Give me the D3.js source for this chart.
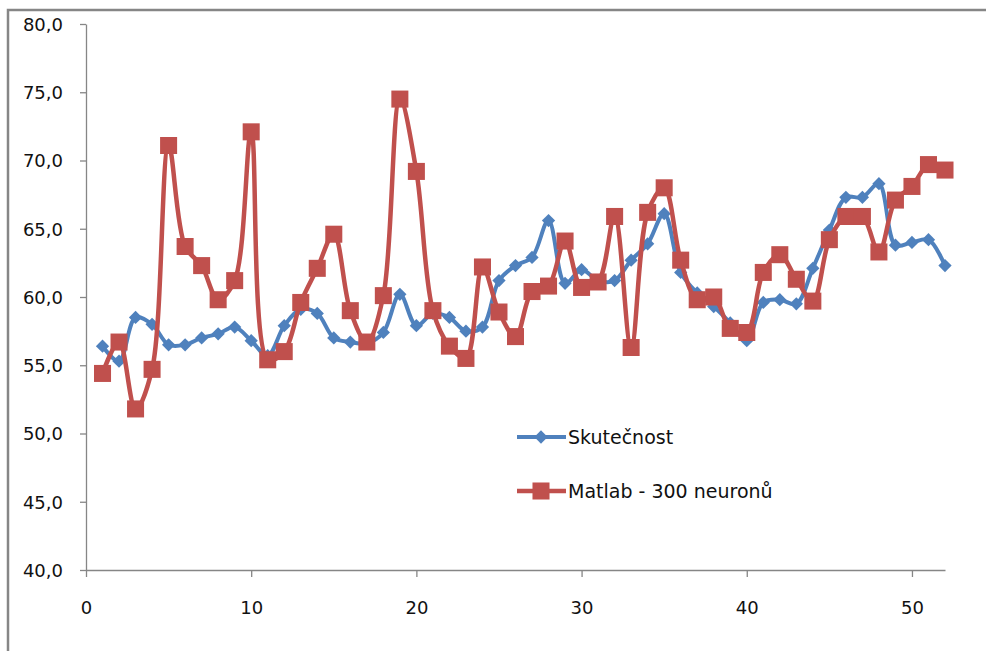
<!DOCTYPE html>
<html>
<head>
<meta charset="utf-8">
<script src="https://cdn.jsdelivr.net/npm/d3@7"></script>
<style>
  html, body { margin: 0; padding: 0; background: #fff; }
  svg { display: block; }
</style>
</head>
<body>
<div id="chart"></div>
<script>
// week index 1..52
const weeks = d3.range(1, 53);

const skutecnost = [
  56.4, 55.3, 58.5, 58.0, 56.5, 56.5, 57.0, 57.3, 57.8, 56.8,
  55.7, 57.9, 59.1, 58.8, 57.0, 56.7, 56.6, 57.4, 60.2, 57.9,
  58.8, 58.5, 57.5, 57.8, 61.2, 62.3, 62.9, 65.6, 61.0, 62.0,
  61.2, 61.2, 62.7, 63.9, 66.1, 61.8, 60.3, 59.3, 58.1, 56.8,
  59.6, 59.8, 59.5, 62.1, 64.9, 67.3, 67.3, 68.3, 63.8, 64.0,
  64.2, 62.3
];

const matlab300 = [
  54.4, 56.7, 51.8, 54.7, 71.1, 63.7, 62.3, 59.8, 61.2, 72.1,
  55.4, 56.0, 59.6, 62.1, 64.6, 59.0, 56.7, 60.1, 74.5, 69.2,
  59.0, 56.4, 55.5, 62.2, 58.9, 57.1, 60.4, 60.8, 64.1, 60.7,
  61.1, 65.9, 56.3, 66.2, 68.0, 62.7, 59.8, 60.0, 57.7, 57.4,
  61.8, 63.1, 61.3, 59.7, 64.2, 65.9, 65.9, 63.3, 67.1, 68.1,
  69.7, 69.3
];

const yTicks = [40, 45, 50, 55, 60, 65, 70, 75, 80];
const xTicks = [0, 10, 20, 30, 40, 50];

const seriesNames = ['Skutečnost', 'Matlab - 300 neuronů'];

const width = 986;
const height = 651;
const blue = '#4F81BD';
const red = '#C0504D';
const axisColor = '#868686';
const font = '"DejaVu Sans", sans-serif';

const svg = d3.select('#chart')
  .append('svg')
  .attr('width', width)
  .attr('height', height);

// chart frame (cropped on right and bottom)
svg.append('path')
  .attr('d', 'M8,651 L8,10 L986,10')
  .attr('fill', 'none')
  .attr('stroke', axisColor)
  .attr('stroke-width', 2.5);

const x = d3.scaleLinear().domain([0, 52]).range([86, 945]);
const y = d3.scaleLinear().domain([40, 80]).range([570, 24]);

const yAxis = svg.append('g')
  .attr('transform', 'translate(86,0)')
  .call(d3.axisLeft(y)
    .tickValues(yTicks)
    .tickSize(6)
    .tickSizeOuter(0)
    .tickPadding(17)
    .tickFormat(d => d.toFixed(1).replace('.', ',')));

const xAxis = svg.append('g')
  .attr('transform', 'translate(0,570)')
  .call(d3.axisBottom(x)
    .tickValues(xTicks)
    .tickSize(7)
    .tickSizeOuter(0)
    .tickFormat(d3.format('d')));

[yAxis, xAxis].forEach(ax => {
  ax.select('.domain').attr('stroke', axisColor).attr('stroke-width', 1.3);
  ax.selectAll('.tick line').attr('stroke', axisColor).attr('stroke-width', 1.3);
  ax.selectAll('.tick text')
    .attr('fill', '#111')
    .style('font-family', font)
    .style('font-size', '18px');
});
yAxis.selectAll('.tick text').attr('dy', '0.36em');
xAxis.selectAll('.tick text').attr('y', 38).attr('dy', '0.36em');

// smoothed lines, close to Excel's "smoothed line" option
const line = d3.line()
  .x((d, i) => x(weeks[i]))
  .y(d => y(d))
  .curve(d3.curveCatmullRom.alpha(0.5));

const diamond = d3.symbol(d3.symbolSquare, 88);
const square = d3.symbol(d3.symbolSquare, 290);

// series 1: Skutečnost
svg.append('path')
  .datum(skutecnost)
  .attr('d', line)
  .attr('fill', 'none')
  .attr('stroke', blue)
  .attr('stroke-width', 4)
  .attr('stroke-linejoin', 'round');

svg.append('g')
  .selectAll('path')
  .data(skutecnost)
  .enter()
  .append('path')
  .attr('d', diamond)
  .attr('transform', (d, i) => `translate(${x(weeks[i])},${y(d)}) rotate(45)`)
  .attr('fill', blue);

// series 2: Matlab
svg.append('path')
  .datum(matlab300)
  .attr('d', line)
  .attr('fill', 'none')
  .attr('stroke', red)
  .attr('stroke-width', 4.5)
  .attr('stroke-linejoin', 'round');

svg.append('g')
  .selectAll('path')
  .data(matlab300)
  .enter()
  .append('path')
  .attr('d', square)
  .attr('transform', (d, i) => `translate(${x(weeks[i])},${y(d)})`)
  .attr('fill', red);

// legend
const legend = svg.append('g')
  .selectAll('g')
  .data(seriesNames)
  .enter()
  .append('g')
  .attr('transform', (d, i) => `translate(517,${437 + i * 54})`);

legend.append('line')
  .attr('x1', 0)
  .attr('x2', 49)
  .attr('stroke', (d, i) => i === 0 ? blue : red)
  .attr('stroke-width', (d, i) => i === 0 ? 4 : 4.5);

legend.append('path')
  .attr('d', (d, i) => i === 0 ? diamond() : square())
  .attr('transform', (d, i) => i === 0 ? 'translate(24,0) rotate(45)' : 'translate(24,0)')
  .attr('fill', (d, i) => i === 0 ? blue : red);

legend.append('text')
  .attr('x', 51)
  .attr('dy', '0.36em')
  .text(d => d)
  .style('font-family', font)
  .style('font-size', '19px')
  .style('fill', '#111');
</script>
</body>
</html>
